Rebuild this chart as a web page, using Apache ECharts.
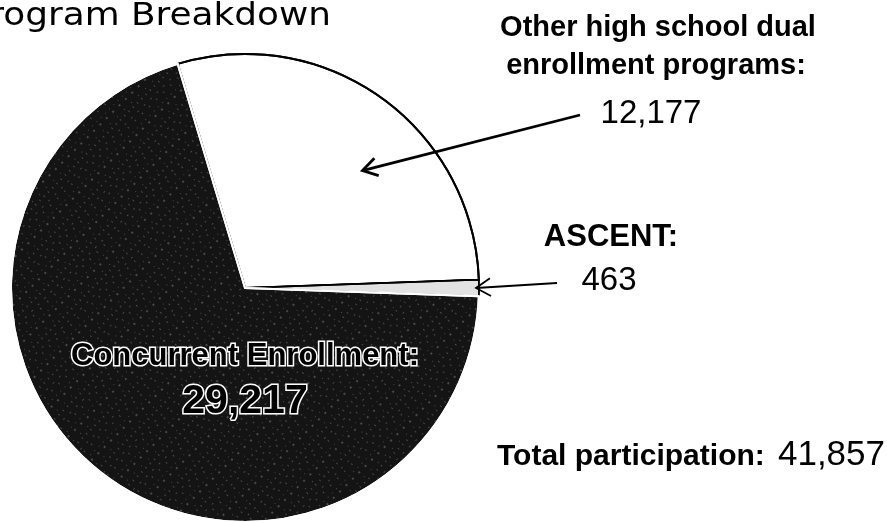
<!DOCTYPE html>
<html>
<head>
<meta charset="utf-8">
<script src="https://cdn.jsdelivr.net/npm/echarts@6/dist/echarts.min.js"></script>
<style>
  html, body { margin: 0; padding: 0; background: #fff; }
  #chart { width: 887px; height: 523px; }
</style>
</head>
<body>
<div id="chart"></div>
<script>
// data
const chartTitle = 'Program Breakdown';
const categories = ['Other high school dual enrollment programs', 'ASCENT', 'Concurrent Enrollment'];
const values = [12177, 463, 29217];
const otherLabelLines = ['Other high school dual', 'enrollment programs:'];
const totalLabel = 'Total participation:';

const total = values.reduce((a, b) => a + b, 0);
const fmt = (v) => v.toLocaleString('en-US');

// pie geometry
const cx = 245, cy = 288, R = 234;
// ASCENT slice sits centred on 3 o'clock
const startAngle = 360 * values[0] / total + 180 * values[1] / total;

function polar(angleFromTop, r) {
  const a = angleFromTop * Math.PI / 180;
  return [cx + r * Math.sin(a), cy - r * Math.cos(a)];
}

function arrow(tail, tip, width, head) {
  const dx = tail[0] - tip[0], dy = tail[1] - tip[1];
  const len = Math.sqrt(dx * dx + dy * dy);
  const ux = dx / len, uy = dy / len;
  const spread = 0.55;
  const arm = (s) => [
    tip[0] + head * (ux * Math.cos(s) - uy * Math.sin(s)),
    tip[1] + head * (ux * Math.sin(s) + uy * Math.cos(s))
  ];
  return [
    { type: 'polyline', silent: true, z: 100, shape: { points: [tail, tip] },
      style: { stroke: '#000', lineWidth: width, fill: null } },
    { type: 'polyline', silent: true, z: 100, shape: { points: [arm(spread), tip, arm(-spread)] },
      style: { stroke: '#000', lineWidth: width, fill: null } }
  ];
}

function txt(text, x, y, size, weight, align) {
  return {
    type: 'text', silent: true, z: 100,
    style: {
      text: text, x: x, y: y,
      font: weight + ' ' + size + 'px "Liberation Sans", Arial, sans-serif',
      fill: '#000', textAlign: align || 'center', textVerticalAlign: 'middle'
    }
  };
}

const otherTip = polar(45, 0.71 * R);
const ascentTip = polar(90, R - 3);

const chart = echarts.init(document.getElementById('chart'), null, { renderer: 'canvas' });
chart.setOption({
  animation: false,
  aria: { enabled: true, decal: { show: true } },
  series: [{
    type: 'pie',
    center: [cx, cy],
    radius: R,
    startAngle: startAngle,
    clockwise: true,
    silent: true,
    avoidLabelOverlap: false,
    labelLine: { show: false },
    data: [
      { name: categories[0], value: values[0],
        itemStyle: { color: '#fff', borderColor: '#000', borderWidth: 2, decal: { symbol: 'none' } },
        label: { show: false } },
      { name: categories[1], value: values[1],
        itemStyle: { color: '#e2e2e2', borderColor: '#000', borderWidth: 1.5, decal: { symbol: 'none' } },
        label: { show: false } },
      { name: categories[2], value: values[2],
        itemStyle: {
          color: '#141414', borderColor: '#fff', borderWidth: 2,
          decal: {
            symbol: 'rect', symbolSize: 1, color: 'rgba(255,255,255,0.22)',
            dashArrayX: [[1, 5], [2, 7], [1, 9]], dashArrayY: [1, 3, 2, 5]
          }
        },
        label: {
          show: true, position: 'center',
          formatter: (p) => '{a|' + p.name + ':}\n{b|' + fmt(p.value) + '}',
          rich: {
            a: { fontFamily: 'Liberation Sans', fontWeight: 'bold', fontSize: 31, lineHeight: 46,
                 color: '#000', textBorderColor: '#fff', textBorderWidth: 3 },
            b: { fontFamily: 'Liberation Sans', fontWeight: 'bold', fontSize: 41, lineHeight: 46,
                 color: '#000', textBorderColor: '#fff', textBorderWidth: 3 }
          }
        } }
    ],
    labelLayout: { dy: 91 }
  }],
  graphic: [
    {
      type: 'text', silent: true, z: 100,
      x: 331, y: 17, scaleX: 1.12,
      style: {
        text: chartTitle, x: 0, y: 0,
        font: '32px "DejaVu Sans", Verdana, sans-serif',
        fill: '#000', textAlign: 'right', textVerticalAlign: 'middle'
      }
    },
    txt(otherLabelLines[0], 658, 28, 29, 'bold'),
    txt(otherLabelLines[1], 656, 66, 29, 'bold'),
    txt(fmt(values[0]), 651, 114, 33, 'normal'),
    txt(categories[1] + ':', 611, 237, 31, 'bold'),
    txt(fmt(values[1]), 609, 281, 33, 'normal'),
    txt(totalLabel, 497, 457, 30, 'bold', 'left'),
    txt(fmt(total), 885, 455, 35, 'normal', 'right'),
    ...arrow([580, 115], otherTip, 2.8, 17),
    ...arrow([557, 283], ascentTip, 1.8, 17)
  ]
});
</script>
</body>
</html>
